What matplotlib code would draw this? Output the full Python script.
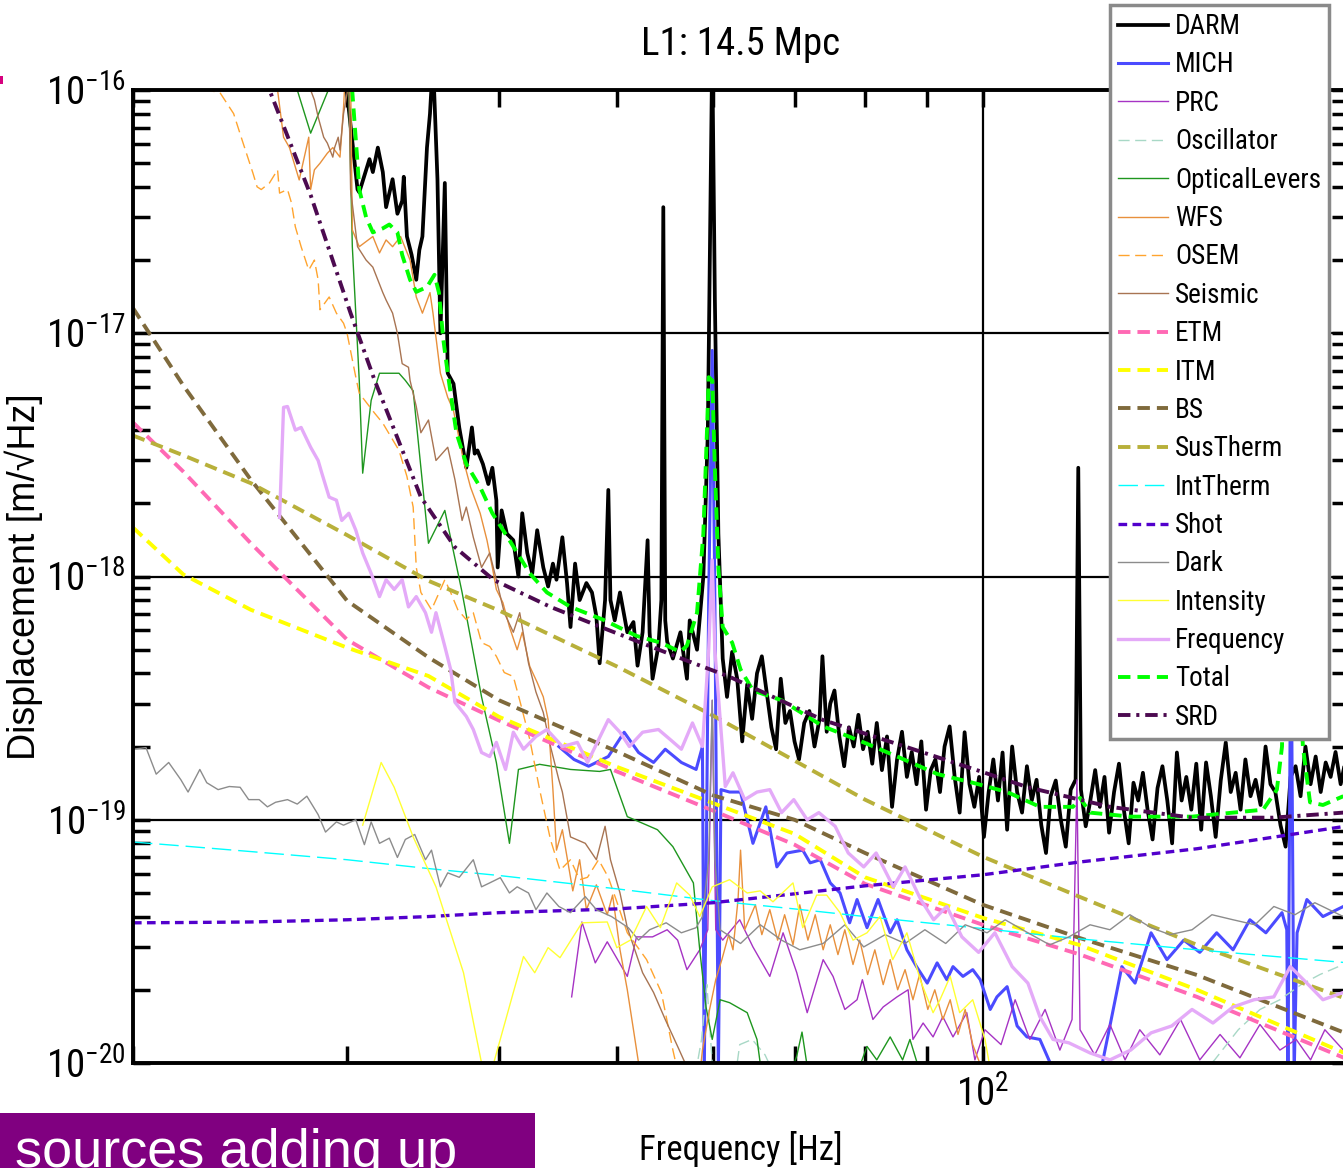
import matplotlib
matplotlib.use('Agg')
import matplotlib.pyplot as plt
from matplotlib.ticker import NullFormatter
from matplotlib.patches import Rectangle

plt.rcParams['font.family'] = ['Liberation Sans Narrow', 'Roboto Condensed', 'DejaVu Sans Condensed',
                               'Liberation Sans', 'DejaVu Sans']
plt.rcParams['font.stretch'] = 'condensed'

# ---- noise budget data (displacement ASD, m/rtHz) ----
darm_f = [29.6, 30.0, 30.6, 30.7, 31.3, 31.5, 31.8, 32.1, 32.3, 32.7,
          33.0, 33.3, 33.4, 33.6, 33.9, 34.2, 34.4, 34.6, 34.9, 35.1,
          35.3, 35.6, 35.8, 36.1, 36.3, 36.7, 37.1, 37.6, 38.0, 38.2,
          38.4, 38.8, 39.2, 39.5, 39.8, 39.9, 40.2, 40.6, 41.1, 41.5,
          41.8, 42.2, 42.6, 43.0, 43.5, 43.9, 44.3, 44.6, 45.1, 45.5,
          45.8, 46.2, 46.6, 47.2, 47.7, 48.1, 48.4, 48.9, 49.2, 49.4,
          49.8, 50.3, 51.0, 51.6, 52.0, 52.5, 53.0, 53.2, 53.5, 54.1,
          54.4, 54.6, 54.8, 55.0, 55.6, 56.4, 57.1, 57.4, 58.2, 58.9,
          59.4, 59.9, 60.2, 60.6,
          61.1, 61.6, 62.2, 62.8, 63.4, 64.0, 64.6, 65.2, 65.8, 66.4,
          67.0, 67.6, 68.2, 68.8, 69.4, 70.0, 70.6, 71.3, 72.0, 72.7,
          73.4, 73.8, 74.4, 74.9, 75.5, 76.2, 76.9, 77.6, 78.3, 79.0,
          79.7, 80.4, 81.1, 81.8, 82.6, 83.4, 84.2, 85.0, 85.8, 86.6,
          87.4, 88.2, 89.0, 89.8, 90.6, 91.4, 92.2, 93.0, 93.9, 94.8,
          95.7, 96.6, 97.5, 98.4, 99.3, 100.2, 101.1, 102.0, 102.9, 103.8,
          104.7, 105.7, 106.7, 107.7, 108.7, 109.7, 110.7, 111.7, 112.7, 113.7,
          114.8, 115.9, 117.0, 118.1, 119.2, 119.8, 120.4, 121.5, 122.6, 123.7,
          124.8, 125.9, 127.0, 128.2, 129.4, 130.6, 131.8, 133.0, 134.2, 135.4,
          136.6, 137.9, 139.2, 140.5, 141.8, 143.1, 144.4, 145.7, 147.0, 148.4,
          149.8, 151.2, 152.6, 154.0, 155.4, 156.9, 158.4, 159.9, 161.4, 162.9,
          164.4, 166.0, 167.6, 169.2, 170.8, 172.4, 174.0, 175.7, 177.4, 179.1,
          180.8, 182.5, 184.2, 186.0, 187.8, 189.6, 191.4, 193.2, 195.0, 196.9,
          198.8]
darm = [1.33e-16, 9.7e-17, 3.9e-17, 3.8e-17, 5.2e-17, 4.6e-17, 5.8e-17, 4.6e-17, 3.3e-17, 4.3e-17,
        3.1e-17, 3.5e-17, 4.4e-17, 2.5e-17, 2.1e-17, 1.66e-17, 2.2e-17, 2.5e-17, 5.8e-17, 8.0e-17,
        1.33e-16, 4.3e-17, 1.0e-17, 4.15e-17, 6.85e-18, 6.2e-18, 4.1e-18, 2.8e-18, 4.1e-18, 3.2e-18,
        3.3e-18, 2.9e-18, 2.4e-18, 2.8e-18, 2.06e-18, 1.09e-18, 1.87e-18, 1.5e-18, 1.41e-18, 1.0e-18,
        1.82e-18, 1.25e-18, 1.03e-18, 1.55e-18, 1.09e-18, 9.1e-19, 1.13e-18, 9.7e-19, 1.45e-18, 9.4e-19,
        6.2e-19, 1.13e-18, 8.0e-19, 9.4e-19, 8.6e-19, 6.85e-19, 4.4e-19, 8.0e-19, 2.27e-18, 8.0e-19,
        6.6e-19, 8.6e-19, 5.9e-19, 6.5e-19, 4.3e-19, 5.9e-19, 1.41e-18, 5.9e-19, 3.8e-19, 5.2e-19,
        8.0e-19, 3.3e-17, 6.6e-19, 5.4e-19, 4.6e-19, 5.9e-19, 3.8e-19, 6.6e-19, 5.0e-19, 1.0e-18,
        3.9e-18, 1.46e-16, 1.37e-17, 1.5e-18,
        4.6e-19, 3.2e-19, 4.9e-19, 3.8e-19, 2.1e-19, 3.6e-19, 2.6e-19, 4.0e-19, 4.7e-19, 3.35e-19,
        2.4e-19, 1.95e-19, 3.8e-19, 2.5e-19, 2.8e-19, 2.1e-19, 1.77e-19, 2.5e-19, 2.8e-19, 2.0e-19,
        2.6e-19, 4.7e-19, 2.3e-19, 3.0e-19, 3.4e-19, 2.2e-19, 1.66e-19, 2.4e-19, 2.0e-19, 2.7e-19,
        1.95e-19, 2.3e-19, 1.7e-19, 2.5e-19, 1.6e-19, 2.2e-19, 1.13e-19, 1.77e-19, 2.3e-19, 1.5e-19,
        1.9e-19, 1.4e-19, 2.1e-19, 1.1e-19, 1.6e-19, 1.77e-19, 1.3e-19, 2.0e-19, 2.42e-19, 1.5e-19,
        1.07e-19, 2.29e-19, 1.4e-19, 1.13e-19, 1.5e-19, 8.5e-20, 1.3e-19, 1.77e-19, 1.2e-19, 1.89e-19,
        9.1e-20, 2.0e-19, 1.3e-19, 1.07e-19, 1.66e-19, 1.2e-19, 1.46e-19, 9.5e-20, 7.3e-20, 1.25e-19,
        1.45e-19, 1.0e-19, 7.75e-20, 1.33e-19, 1.46e-19, 2.8e-18, 1.33e-19, 9.4e-20, 1.21e-19, 1.6e-19,
        1.13e-19, 1.5e-19, 8.85e-20, 1.3e-19, 1.7e-19, 1.1e-19, 8.0e-20, 1.42e-19, 1.2e-19, 1.56e-19,
        1.1e-19, 8.3e-20, 1.35e-19, 1.66e-19, 1.2e-19, 8.0e-20, 1.89e-19, 1.2e-19, 1.5e-19, 1.1e-19,
        1.7e-19, 9.1e-20, 1.72e-19, 1.25e-19, 8.5e-20, 1.45e-19, 2.08e-19, 1.3e-19, 1.56e-19, 1.1e-19,
        1.77e-19, 1.25e-19, 1.46e-19, 1.15e-19, 2.0e-19, 1.4e-19, 1.3e-19, 9.5e-20, 7.75e-20, 1.5e-19,
        1.66e-19, 1.25e-19, 2.0e-19, 1.4e-19, 1.82e-19, 1.3e-19, 1.72e-19, 1.5e-19, 1.9e-19, 1.4e-19,
        1.77e-19]

mich_f = [44.8, 46.1, 47.4, 49.2, 50.7, 52.1, 53.6, 54.8, 56.5, 58.1,
          58.8, 59.0, 59.5, 59.9, 60.2, 60.6, 60.9, 61.9, 63.2, 64.7,
          66.3, 67.7, 69.0, 71.1, 72.1, 73.5, 74.9, 76.3, 77.7, 78.8,
          80.3, 82.0, 83.9, 85.0, 86.6, 88.2, 90.0, 91.7, 93.4, 94.5,
          96.3, 98.1, 99.5, 101.4, 102.7, 104.7, 106.7, 108.7, 111.4, 113.6,
          115.1, 124.8, 127.2, 130.1, 133.4, 137.5, 141.7, 146.3, 150.8, 155.7,
          160.6, 165.8, 170.9, 176.2, 177.8, 178.2, 179.2, 180.3, 181.3, 184.7,
          190.4, 197.9]
mich = [2.0e-19, 1.77e-19, 1.66e-19, 1.82e-19, 2.29e-19, 1.89e-19, 1.72e-19, 1.95e-19, 1.72e-19, 1.61e-19,
        2.0e-19, 8.9e-21, 8.0e-19, 8.5e-18, 8.0e-19, 8.9e-21, 1.33e-19, 1.3e-19, 1.3e-19, 8.0e-20,
        1.13e-19, 6.4e-20, 7.3e-20, 7.5e-20, 6.65e-20, 6.85e-20, 5.5e-20, 5.0e-20, 3.77e-20, 4.7e-20,
        3.6e-20, 4.7e-20, 3.43e-20, 3.88e-20, 2.92e-20, 2.49e-20, 2.13e-20, 2.58e-20, 2.2e-20, 2.49e-20,
        2.27e-20, 2.42e-20, 2.2e-20, 1.66e-20, 1.87e-20, 2.06e-20, 1.42e-20, 1.28e-20, 1.25e-20, 1.0e-20,
        8.9e-21, 8.9e-21, 1.42e-20, 2.49e-20, 2.13e-20, 3.43e-20, 2.66e-20, 3.2e-20, 2.85e-20, 3.43e-20,
        2.92e-20, 3.88e-20, 3.43e-20, 4.15e-20, 3.53e-20, 8.9e-21, 8.0e-19, 8.9e-21, 3.43e-20, 4.7e-20,
        4.0e-20, 4.4e-20]

prc_f = [45.9, 46.8, 48.0, 49.1, 51.0, 51.9, 53.5, 55.0, 56.1, 57.1,
         58.5, 59.4, 59.9, 60.3, 61.1, 63.1, 64.7, 66.8, 68.5, 70.3,
         71.7, 73.9, 75.3, 77.0, 78.8, 79.6, 81.2, 82.8, 85.0, 86.8,
         87.6, 89.3, 91.0, 92.7, 94.5, 97.0, 98.5, 100.4, 103.5, 106.3,
         109.3, 112.5, 115.7, 118.4, 119.5, 120.2, 123.6, 127.2, 130.9, 134.6,
         139.8, 145.4, 150.8, 156.7, 162.7, 169.0, 175.5, 181.0, 186.0, 191.1,
         197.9]
prc = [1.87e-20, 3.8e-20, 2.58e-20, 3.15e-20, 2.27e-20, 3.3e-20, 3.3e-20, 3.53e-20, 3.2e-20, 2.42e-20,
       2.92e-20, 3.53e-20, 3.1e-19, 3.53e-20, 3.2e-20, 3.88e-20, 3.0e-20, 2.27e-20, 3.43e-20, 2.35e-20,
       1.61e-20, 2.66e-20, 2.27e-20, 1.66e-20, 1.82e-20, 2.2e-20, 1.51e-20, 1.7e-20, 1.87e-20, 2.0e-20,
       1.25e-20, 1.46e-20, 1.28e-20, 1.55e-20, 1.28e-20, 1.61e-20, 1.03e-20, 1.37e-20, 1.19e-20, 1.82e-20,
       1.25e-20, 1.66e-20, 1.13e-20, 1.51e-20, 1.46e-19, 1.37e-20, 1.08e-20, 1.44e-20, 1.03e-20, 1.37e-20,
       1.08e-20, 1.51e-20, 1.03e-20, 1.31e-20, 1.05e-20, 1.44e-20, 1.13e-20, 1.25e-20, 1.03e-20, 1.37e-20,
       1.13e-20]

osc_f = [58.0, 58.7, 59.3, 59.9, 60.2, 62.6, 63.1, 64.6, 66.2, 67.4,
         150.8, 155.1, 162.2, 169.0, 175.5, 182.7, 189.3, 197.9]
osc = [8.9e-21, 1.25e-20, 2.1e-20, 1.0e-20, 8.9e-21, 8.9e-21, 1.19e-20, 1.25e-20, 1.08e-20, 8.9e-21,
       8.9e-21, 1.03e-20, 1.37e-20, 1.66e-20, 1.82e-20, 2.1e-20, 2.31e-20, 2.54e-20]

olev_f = [27.0, 27.3, 28.0, 29.0, 29.2, 29.9, 30.1, 30.3, 30.7, 30.9,
          31.4, 31.9, 33.1, 33.5, 34.0, 35.0, 36.1, 37.3, 38.7, 39.8,
          40.8, 41.5, 43.2, 45.8, 48.4, 49.4, 51.0, 54.0, 55.6, 57.8,
          58.5, 59.2, 59.9, 60.8, 61.9, 64.0, 65.2, 65.8, 69.4, 70.3,
          71.0, 71.7, 79.2, 80.3, 81.8, 83.9, 85.9, 87.1, 88.3, 88.7]
olev = [1.33e-16, 1.0e-16, 6.65e-17, 1.02e-16, 1.2e-16, 1.2e-16, 9.5e-17, 2.27e-17, 6.4e-18, 2.66e-18,
        5.3e-18, 6.85e-18, 6.85e-18, 6.4e-18, 5.8e-18, 1.37e-18, 1.87e-18, 8.6e-19, 3.2e-19, 1.72e-19,
        8.0e-20, 1.61e-19, 1.69e-19, 1.61e-19, 1.58e-19, 1.61e-19, 1.03e-19, 9.1e-20, 7.75e-20, 5.5e-20,
        2.92e-20, 1.7e-20, 1.25e-20, 1.82e-20, 1.77e-20, 1.61e-20, 1.25e-20, 8.9e-21, 8.9e-21, 1.07e-20,
        1.34e-20, 9.7e-21, 9.7e-21, 1.17e-20, 1.03e-20, 1.28e-20, 1.03e-20, 1.25e-20, 1.0e-20, 8.9e-21]

wfs_f = [25.9, 26.3, 26.6, 26.9, 27.4, 27.9, 28.0, 28.2, 28.5, 28.9,
         29.2, 29.6, 29.8, 29.9, 30.2, 30.3, 30.7, 31.5, 31.9, 32.3,
         32.7, 33.2, 33.8, 34.2, 34.6, 35.1, 35.3, 35.8, 36.3, 36.7,
         37.4, 37.9, 38.6, 39.1, 39.5, 39.8, 40.3, 40.8, 41.4, 41.8,
         42.4, 43.0, 43.5, 43.9, 44.3, 44.6, 45.1, 46.0, 46.6, 47.2,
         48.1, 49.1, 49.6, 50.3, 51.0, 51.6, 52.1, 52.5, 58.5, 58.8,
         59.6, 60.3, 61.0, 61.8, 62.3, 62.9, 63.2, 63.7, 65.0, 65.8,
         66.8, 67.8, 68.7, 69.8, 70.7, 71.8, 72.8, 73.9, 74.9, 76.0,
         77.0, 78.2, 79.2, 80.4, 81.5, 82.8, 83.9, 85.1, 86.3, 87.6,
         88.7, 90.1, 91.3, 92.7, 94.0, 95.4, 96.7, 98.1, 99.4, 100.4]
wfs = [1.33e-16, 1.0e-16, 6.4e-17, 5.8e-17, 4.27e-17, 6.4e-17, 3.9e-17, 4.7e-17, 5.0e-17, 5.5e-17,
       5.8e-17, 5.3e-17, 8.5e-17, 1.15e-16, 1.15e-16, 2.66e-17, 2.27e-17, 2.5e-17, 2.14e-17, 2.42e-17,
       2.27e-17, 2.5e-17, 2.0e-17, 1.41e-17, 1.21e-17, 1.47e-17, 1.21e-17, 6.85e-18, 5.45e-18, 4.8e-18,
       3.0e-18, 2.33e-18, 1.82e-18, 1.41e-18, 1.09e-18, 8.85e-19, 7.8e-19, 6.2e-19, 5.0e-19, 5.9e-19,
       4.27e-19, 3.67e-19, 3.2e-19, 2.58e-19, 1.33e-19, 7.5e-20, 9.1e-20, 5.1e-20, 6.85e-20, 4.27e-20,
       5.4e-20, 4.07e-20, 4.9e-20, 2.92e-20, 2.0e-20, 1.37e-20, 1.0e-20, 8.9e-21, 8.9e-21, 1.13e-20,
       1.66e-20, 2.2e-20, 2.66e-20, 3.37e-20, 2.92e-20, 4.7e-20, 7.5e-20, 3.53e-20, 4.47e-20, 3.37e-20,
       4.27e-20, 3.2e-20, 4.07e-20, 3.06e-20, 4.47e-20, 3.2e-20, 4.07e-20, 2.92e-20, 3.7e-20, 2.79e-20,
       3.53e-20, 2.54e-20, 3.2e-20, 2.31e-20, 2.92e-20, 2.1e-20, 2.66e-20, 2.0e-20, 2.42e-20, 1.82e-20,
       2.31e-20, 1.66e-20, 2.0e-20, 1.51e-20, 1.82e-20, 1.31e-20, 1.66e-20, 1.19e-20, 1.0e-20, 8.9e-21]

osem_f = [22.7, 23.1, 23.6, 24.2, 24.6, 25.1, 25.3, 25.5, 25.9, 26.3,
          26.4, 26.8, 27.0, 27.2, 27.5, 27.9, 28.2, 28.4, 28.5, 29.0,
          29.4, 29.8, 30.0, 30.5, 30.7, 31.6, 32.1, 33.1, 33.6, 34.0,
          34.2, 34.5, 35.2, 36.1, 36.5, 37.0, 37.6, 38.1, 38.7, 39.3,
          39.8, 40.4, 41.1, 41.6, 42.4, 43.2, 44.1, 44.9, 45.8, 46.6,
          47.3, 48.3, 49.2, 50.1, 51.0, 52.9, 54.4, 55.6, 56.2]
osem = [1.21e-16, 1.0e-16, 9.7e-17, 8.0e-17, 6.2e-17, 4.56e-17, 4.0e-17, 3.9e-17, 4.15e-17, 4.7e-17,
        3.77e-17, 3.9e-17, 3.44e-17, 2.74e-17, 2.27e-17, 1.82e-17, 2.0e-17, 1.66e-17, 1.25e-17, 1.41e-17,
        1.21e-17, 1.1e-17, 1.0e-17, 6.6e-18, 5.67e-18, 4.7e-18, 4.27e-18, 3.3e-18, 2.58e-18, 1.93e-18,
        1.09e-18, 8.6e-19, 7.3e-19, 9.7e-19, 8.6e-19, 7.3e-19, 6.65e-19, 7.1e-19, 5.35e-19, 5.16e-19,
        4.7e-19, 4.03e-19, 3.88e-19, 3.1e-19, 2.14e-19, 1.33e-19, 8.27e-20, 6.2e-20, 6.85e-20, 5.67e-20,
        5.8e-20, 6.85e-20, 5.8e-20, 4.47e-20, 3.43e-20, 2.66e-20, 1.95e-20, 1.13e-20, 8.9e-21]

seis_f = [27.9, 28.0, 28.2, 28.4, 28.7, 28.9, 29.2, 29.3, 29.5, 29.6,
          29.8, 30.0, 30.1, 30.2, 30.6, 31.1, 31.5, 32.1, 32.3, 32.7,
          33.0, 33.3, 33.7, 33.8, 34.2, 34.5, 35.0, 35.5, 36.3, 36.8,
          37.3, 37.6, 38.1, 38.7, 39.3, 39.8, 40.4, 41.1, 41.6, 42.3,
          42.9, 43.5, 44.1, 44.8, 45.1, 45.8, 47.1, 48.1, 48.9, 49.4,
          50.3, 51.0, 52.5, 53.6, 54.8, 56.1, 56.9, 57.4]
seis = [1.1e-16, 1.0e-16, 9.1e-17, 7.75e-17, 6.4e-17, 6.05e-17, 5.3e-17, 5.8e-17, 6.4e-17, 5.67e-17,
        8.0e-17, 9.7e-17, 1.15e-16, 3.9e-17, 2.27e-17, 2.0e-17, 1.87e-17, 1.47e-17, 1.37e-17, 1.21e-17,
        1.0e-17, 7.5e-18, 7.25e-18, 6.4e-18, 5.0e-18, 3.9e-18, 4.4e-18, 3.0e-18, 3.4e-18, 2.5e-18,
        1.7e-18, 1.93e-18, 1.45e-18, 1.09e-18, 1.25e-18, 9.7e-19, 7.1e-19, 5.9e-19, 7.1e-19, 4.4e-19,
        3.35e-19, 2.76e-19, 2.0e-19, 1.46e-19, 1.3e-19, 8.5e-20, 8.0e-20, 6.85e-20, 9.4e-20, 6.85e-20,
        5.0e-20, 3.6e-20, 2.35e-20, 1.95e-20, 1.51e-20, 1.17e-20, 1.0e-20, 8.9e-21]

# smooth model curves share one frequency grid
model_f = [20, 22, 25, 30, 35, 40, 50, 60, 70, 80, 100, 120, 150, 200]
etm = [4.3e-18, 2.7e-18, 1.37e-18, 5.5e-19, 3.5e-19, 2.56e-19, 1.58e-19, 1.09e-19, 7.9e-20, 5.45e-20,
       3.7e-20, 2.8e-20, 1.87e-20, 1.03e-20]
itm = [1.59e-18, 1.02e-18, 7.3e-19, 5.1e-19, 3.9e-19, 2.65e-19, 1.65e-19, 1.17e-19, 8.75e-20, 5.8e-20,
       3.95e-20, 3.06e-20, 2.0e-20, 1.08e-20]
bs = [1.27e-17, 6.1e-18, 2.5e-18, 7.95e-19, 4.65e-19, 3.1e-19, 1.91e-19, 1.26e-19, 1.0e-19, 7.3e-20,
      4.47e-20, 3.27e-20, 2.3e-20, 1.31e-20]
sustherm = [3.8e-18, 3.15e-18, 2.42e-18, 1.48e-18, 9.6e-19, 7.25e-19, 4.27e-19, 2.68e-19, 1.75e-19, 1.21e-19,
            7.05e-20, 4.83e-20, 3.06e-20, 1.82e-20]
inttherm = [8.1e-20, 7.8e-20, 7.4e-20, 6.85e-20, 6.3e-20, 5.9e-20, 5.2e-20, 4.65e-20, 4.3e-20, 4.0e-20,
            3.57e-20, 3.24e-20, 2.92e-20, 2.58e-20]
shot = [3.77e-20, 3.78e-20, 3.8e-20, 3.88e-20, 4.0e-20, 4.15e-20, 4.3e-20, 4.56e-20, 4.96e-20, 5.35e-20,
        5.94e-20, 6.7e-20, 7.6e-20, 9.45e-20]

dark_f = [20.0, 20.5, 20.9, 21.4, 21.9, 22.2, 22.7, 23.0, 23.5, 24.0,
          24.5, 24.9, 25.4, 25.8, 26.2, 26.8, 27.3, 27.8, 28.4, 28.8,
          29.4, 29.8, 30.5, 31.0, 31.4, 31.9, 32.5, 33.0, 33.5, 34.1,
          34.8, 35.2, 35.8, 36.3, 37.1, 38.1, 38.7, 39.3, 40.1, 40.8,
          41.4, 42.3, 42.9, 43.8, 44.8, 45.8, 47.1, 48.1, 49.5, 51.1,
          52.1, 53.2, 54.9, 56.5, 58.1, 58.8, 59.5, 59.9, 60.2, 60.8,
          63.2, 65.6, 68.3, 70.7, 73.9, 77.0, 79.8, 83.1, 86.3, 89.6,
          93.2, 96.7, 100.8, 104.3, 108.9, 113.5, 117.7, 122.5, 127.2, 132.1,
          137.5, 142.5, 148.6, 154.3, 160.6, 167.4, 173.5, 180.6, 187.5, 197.9]
dark = [1.95e-19, 1.98e-19, 1.54e-19, 1.72e-19, 1.46e-19, 1.3e-19, 1.61e-19, 1.42e-19, 1.33e-19, 1.37e-19,
        1.36e-19, 1.21e-19, 1.21e-19, 1.13e-19, 1.18e-19, 1.21e-19, 1.16e-19, 1.25e-19, 1.05e-19, 8.9e-20,
        9.8e-20, 9.5e-20, 1.0e-19, 7.9e-20, 9.8e-20, 8.0e-20, 8.4e-20, 7.0e-20, 8.3e-20, 8.7e-20,
        6.85e-20, 7.5e-20, 5.3e-20, 6.05e-20, 5.8e-20, 6.85e-20, 5.3e-20, 5.5e-20, 5.78e-20, 5.0e-20,
        5.3e-20, 5.0e-20, 4.27e-20, 5.0e-20, 4.4e-20, 4.15e-20, 4.83e-20, 4.27e-20, 4.0e-20, 3.6e-20,
        3.2e-20, 3.53e-20, 3.77e-20, 3.43e-20, 3.6e-20, 4.0e-20, 6.85e-20, 3.1e-19, 6.85e-20, 3.53e-20,
        3.1e-20, 3.7e-20, 3.2e-20, 2.92e-20, 3.1e-20, 3.7e-20, 3.0e-20, 3.37e-20, 3.1e-20, 3.53e-20,
        3.1e-20, 3.7e-20, 3.43e-20, 3.88e-20, 3.43e-20, 3.06e-20, 3.3e-20, 3.7e-20, 3.53e-20, 4.07e-20,
        3.6e-20, 3.37e-20, 3.53e-20, 4.07e-20, 3.88e-20, 3.7e-20, 4.4e-20, 4.07e-20, 4.56e-20, 4.0e-20]

intensity_f = [30.9, 32.0, 32.8, 34.0, 35.5, 37.4, 38.7, 39.0, 39.3, 39.6,
               41.1, 41.9, 42.8, 43.9, 44.9, 46.8, 49.1, 50.0, 51.3, 52.9,
               54.3, 56.0, 57.4, 58.5, 59.9, 61.9, 64.0, 65.6, 67.2, 69.8,
               71.1, 73.0, 74.4, 76.3, 78.2, 80.3, 82.3, 84.3, 86.6, 88.8,
               91.0, 92.2, 94.0, 95.7, 98.1, 100.4, 101.8]
intensity = [9.5e-20, 1.72e-19, 1.36e-19, 8.5e-20, 5.3e-20, 2.35e-20, 1.0e-20, 8.5e-21, 8.5e-21, 1.0e-20,
             1.95e-20, 2.74e-20, 2.35e-20, 2.98e-20, 2.71e-20, 3.77e-20, 3.8e-20, 2.98e-20, 3.2e-20, 4.4e-20,
             3.6e-20, 5.5e-20, 4.9e-20, 4.0e-20, 5.3e-20, 5.67e-20, 5.0e-20, 5.1e-20, 4.6e-20, 5.5e-20,
             3.6e-20, 4.9e-20, 4.9e-20, 4.15e-20, 3.2e-20, 3.43e-20, 4.0e-20, 2.66e-20, 3.43e-20, 2.2e-20,
             1.61e-20, 1.82e-20, 2.27e-20, 1.61e-20, 1.82e-20, 1.25e-20, 8.5e-21]

freqnoise_f = [26.4, 26.6, 26.8, 27.2, 27.5, 28.0, 28.4, 28.6, 29.0, 29.4,
               29.7, 30.1, 30.5, 30.9, 31.4, 31.9, 32.3, 32.8, 33.3, 33.7,
               34.2, 34.8, 35.2, 35.5, 36.1, 36.5, 36.8, 37.6, 38.1, 38.7,
               39.3, 39.8, 40.5, 41.1, 41.9, 42.9, 43.8, 45.1, 46.4, 47.3,
               49.2, 50.3, 51.2, 52.5, 54.1, 55.3, 56.5, 57.7, 58.8, 59.5,
               59.9, 60.2, 61.4, 62.3, 63.7, 65.2, 66.8, 68.3, 69.9, 71.7,
               73.3, 75.6, 77.5, 79.8, 81.7, 84.4, 86.3, 88.9, 91.1, 93.4,
               96.1, 99.2, 102.3, 105.7, 108.9, 111.4, 114.2, 117.7, 122.5, 127.2,
               132.3, 137.5, 143.0, 148.6, 154.6, 160.6, 167.1, 173.5, 179.0, 184.7,
               190.4, 197.9]
freqnoise = [1.75e-18, 4.96e-18, 5.0e-18, 4.0e-18, 4.1e-18, 3.4e-18, 3.0e-18, 2.66e-18, 2.12e-18, 2.06e-18,
             1.7e-18, 1.82e-18, 1.55e-18, 1.25e-18, 1.03e-18, 8.27e-19, 9.7e-19, 8.85e-19, 9.7e-19, 7.5e-19,
             8.27e-19, 7.1e-19, 5.9e-19, 7.1e-19, 5.16e-19, 4.15e-19, 3.04e-19, 2.66e-19, 2.35e-19, 1.89e-19,
             1.82e-19, 2.08e-19, 1.61e-19, 2.29e-19, 1.95e-19, 2.2e-19, 2.35e-19, 2.0e-19, 2.08e-19, 1.72e-19,
             2.58e-19, 2.29e-19, 2.0e-19, 2.29e-19, 2.35e-19, 2.14e-19, 1.95e-19, 2.5e-19, 2.0e-19, 5.0e-19,
             1.17e-18, 5.0e-19, 1.37e-19, 1.56e-19, 1.21e-19, 1.3e-19, 1.33e-19, 1.07e-19, 1.21e-19, 1.0e-19,
             1.07e-19, 9.4e-20, 7.3e-20, 6.4e-20, 7.3e-20, 5.3e-20, 6.4e-20, 4.7e-20, 3.88e-20, 4.4e-20,
             3.3e-20, 2.85e-20, 3.43e-20, 2.49e-20, 2.13e-20, 1.55e-20, 1.25e-20, 1.21e-20, 1.1e-20, 1.03e-20,
             1.13e-20, 1.33e-20, 1.42e-20, 1.66e-20, 1.46e-20, 1.7e-20, 1.82e-20, 1.87e-20, 2.49e-20, 2.13e-20,
             1.82e-20, 1.95e-20]

total_f = [30.1, 30.3, 30.6, 30.7, 31.1, 31.5, 32.1, 32.5, 33.0, 33.3,
           33.8, 34.2, 34.9, 35.4, 35.7, 36.0, 36.3, 36.9, 37.6, 38.6,
           39.5, 40.8, 42.4, 43.8, 45.8, 48.7, 51.9, 54.3, 56.4, 57.1,
           58.2, 58.9, 59.3, 59.5, 59.9, 60.2, 60.6, 61.1, 62.2, 63.2,
           64.7, 68.3, 73.9, 79.8, 85.0, 91.8, 98.1, 104.7, 111.4, 118.6,
           120.2, 122.5, 132.3, 148.6, 170.0, 174.5, 176.2, 177.1, 179.2, 181.3,
           183.3, 185.8, 190.4, 197.9]
total = [1.21e-16, 9.8e-17, 5.0e-17, 3.9e-17, 3.0e-17, 2.6e-17, 2.7e-17, 2.8e-17, 2.6e-17, 2.1e-17,
         1.66e-17, 1.48e-17, 1.55e-17, 1.74e-17, 1.47e-17, 9.4e-18, 6.85e-18, 3.9e-18, 2.9e-18, 2.33e-18,
         1.82e-18, 1.41e-18, 1.03e-18, 8.6e-19, 7.5e-19, 6.65e-19, 5.7e-19, 5.35e-19, 4.9e-19, 5.2e-19,
         7.1e-19, 1.5e-18, 3.9e-18, 6.6e-18, 6.4e-18, 2.8e-18, 1.09e-18, 6.2e-19, 5.35e-19, 4.15e-19,
         3.4e-19, 3.1e-19, 2.42e-19, 2.08e-19, 1.82e-19, 1.54e-19, 1.42e-19, 1.3e-19, 1.13e-19, 1.13e-19,
         1.23e-19, 1.07e-19, 1.03e-19, 1.03e-19, 1.1e-19, 1.33e-19, 2.0e-19, 8.0e-19, 1.17e-18, 8.0e-19,
         2.0e-19, 1.18e-19, 1.15e-19, 1.25e-19]

srd_f = [25.2, 25.9, 28.0, 30.2, 31.6, 34.5, 36.8, 39.6, 44.1, 49.2,
         56.9, 61.9, 73.9, 86.3, 100.0, 108.9, 127.2, 148.6, 173.2, 197.9]
srd = [1.45e-16, 1.0e-16, 3.7e-17, 1.21e-17, 6.43e-18, 2.12e-18, 1.32e-18, 9.68e-19, 7.5e-19, 6.03e-19,
       4.54e-19, 3.87e-19, 2.57e-19, 2.0e-19, 1.57e-19, 1.36e-19, 1.13e-19, 1.02e-19, 1.02e-19, 1.07e-19]

# ---- figure ----
fig = plt.figure(figsize=(13.43, 11.68), dpi=100)
ax = fig.add_axes([0.0990, 0.0899, 0.9054, 0.8330])

thick = 2.8
dash = (3.2, 1.8)
curves = [
    ('DARM', darm_f, darm, dict(color='black', lw=2.7)),
    ('MICH', mich_f, mich, dict(color='#4b4bff', lw=2.2)),
    ('PRC', prc_f, prc, dict(color='#a633c4', lw=1.0)),
    ('Oscillator', osc_f, osc, dict(color='#a8d8c6', lw=1.0, dashes=(8, 4))),
    ('OpticalLevers', olev_f, olev, dict(color='#1e961e', lw=1.0)),
    ('WFS', wfs_f, wfs, dict(color='#e8903c', lw=1.0)),
    ('OSEM', osem_f, osem, dict(color='#ffa42e', lw=1.0, dashes=(8, 4))),
    ('Seismic', seis_f, seis, dict(color='#a87452', lw=1.0)),
    ('ETM', model_f, etm, dict(color='#ff69b4', lw=thick, dashes=dash)),
    ('ITM', model_f, itm, dict(color='#ffff00', lw=thick, dashes=dash)),
    ('BS', model_f, bs, dict(color='#7f6a3c', lw=thick, dashes=dash)),
    ('SusTherm', model_f, sustherm, dict(color='#b8b03a', lw=thick, dashes=dash)),
    ('IntTherm', model_f, inttherm, dict(color='#00ffff', lw=1.0, dashes=(14, 5))),
    ('Shot', model_f, shot, dict(color='#5200cc', lw=2.4, dashes=(2.6, 1.6))),
    ('Dark', dark_f, dark, dict(color='#8c8c8c', lw=1.0)),
    ('Intensity', intensity_f, intensity, dict(color='#ffff33', lw=1.0)),
    ('Frequency', freqnoise_f, freqnoise, dict(color='#e4aaf8', lw=2.4)),
    ('Total', total_f, total, dict(color='#00ff00', lw=thick, dashes=dash)),
    ('SRD', srd_f, srd, dict(color='#4c0a50', lw=thick, dashes=(3.2, 1.5, 0.8, 1.5))),
]
for label, f, v, kw in curves:
    ax.loglog(f, v, label=label, **kw)

ax.set_xlim(20, 200)
ax.set_ylim(1e-20, 1e-16)
ax.grid(True, which='major', color='black', lw=1.6)
ax.xaxis.set_minor_formatter(NullFormatter())
for s in ax.spines.values():
    s.set_linewidth(2.8)
ax.tick_params(which='both', direction='in', top=True, right=True, width=2.5,
               length=12, labelsize=28)
ax.tick_params(axis='y', pad=5)
ax.tick_params(axis='x', pad=9)

ax.set_title('L1: 14.5 Mpc', fontsize=28, pad=25)
ax.set_xlabel('Frequency [Hz]', fontsize=25)
ax.xaxis.set_label_coords(0.5, -0.07)
ax.set_ylabel('Displacement [m/\u221aHz]', fontsize=27,
              family=['Liberation Sans', 'DejaVu Sans'], stretch='normal')
ax.yaxis.set_label_coords(-0.074, 0.5)

leg = ax.legend(loc='upper left', bbox_to_anchor=(1110 / 1343, 1 - 5 / 1168),
                bbox_transform=fig.transFigure, fontsize=19.5, handlelength=1.85,
                handletextpad=0.25, labelspacing=0.42, borderpad=0.3,
                borderaxespad=0, fancybox=False, framealpha=1, edgecolor='#8a8a8a')
leg.get_frame().set_linewidth(2.5)

# slide footer box
fig.patches.append(Rectangle((0, 0), 535 / 1343, 55 / 1168, transform=fig.transFigure,
                             facecolor='#800080', edgecolor='none'))
fig.text(15 / 1343, 1 / 1168, 'sources adding up', color='white', fontsize=39,
         va='baseline', family=['Liberation Sans', 'DejaVu Sans'], stretch='normal')
fig.patches.append(Rectangle((0, 1 - 84 / 1168), 3 / 1343, 8 / 1168, transform=fig.transFigure,
                             facecolor='#d6007e', edgecolor='none'))

fig.savefig('out.png', dpi=100)
